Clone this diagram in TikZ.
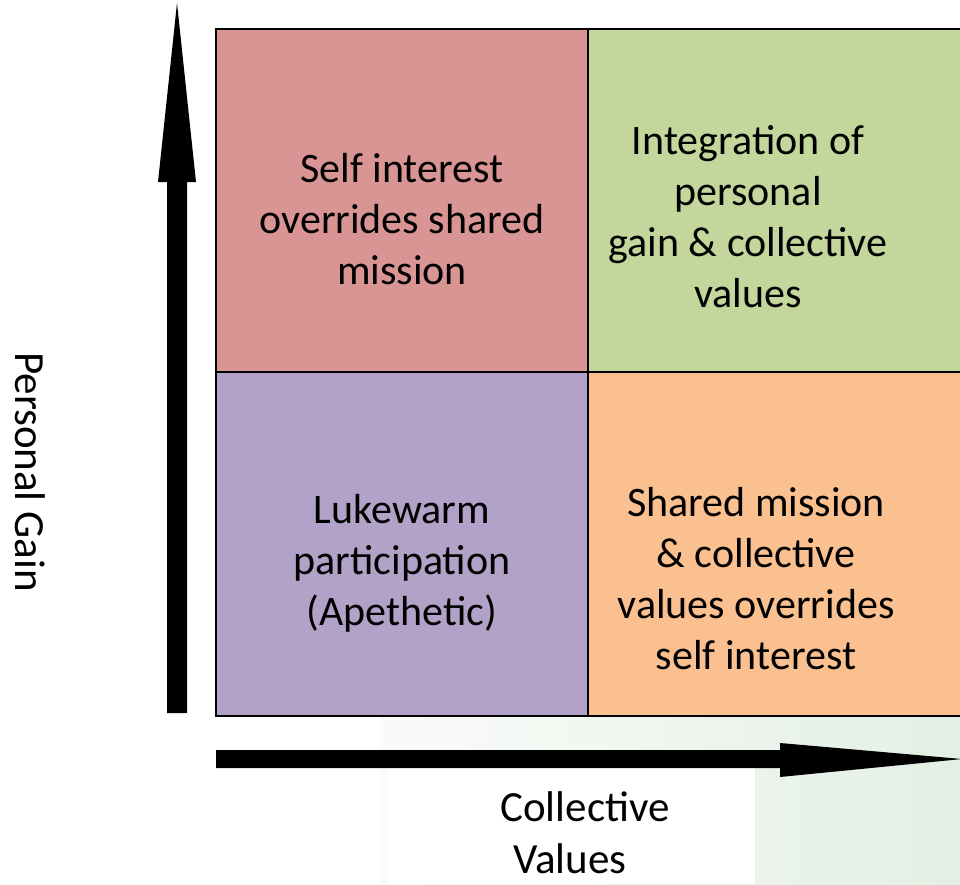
\documentclass[tikz,border=0pt]{standalone}
\usepackage{fontspec}
\setmainfont{Carlito}
\definecolor{cTL}{HTML}{D99594}
\definecolor{cTR}{HTML}{C3D69B}
\definecolor{cBL}{HTML}{B2A2C7}
\definecolor{cBR}{HTML}{FAC08F}
\definecolor{photoA}{HTML}{EEF3EC}
\definecolor{photoB}{HTML}{DCEBDD}
\begin{document}
\begin{tikzpicture}[x=1pt,y=-1pt,
  quad/.style={draw=black,line width=2pt},
  qtext/.style={align=center,font=\fontsize{42}{51}\selectfont,inner sep=0pt},
  axtext/.style={align=center,font=\fontsize{43}{52}\selectfont,inner sep=0pt},
  axis/.style={fill=black,draw=none}]
\useasboundingbox (0,0) rectangle (960,884);
% faint background photo
\shade[left color=photoA!30!white,right color=photoB!80!white,draw=none] (380,716) rectangle (960,884);
\fill[white] (388,768) rectangle (755,884);
% quadrants
\fill[cTL] (216,29) rectangle (588,372);
\fill[cTR] (588,29) rectangle (962,372);
\fill[cBL] (216,372) rectangle (588,716);
\fill[cBR] (588,372) rectangle (962,716);
\draw[quad] (962,29) -- (216,29) -- (216,716) -- (962,716);
\draw[quad] (588,29) -- (588,716);
\draw[quad] (216,372) -- (962,372);
% axes
\fill[axis] (167,713) -- (167,182) -- (158,182) -- (177,3) -- (196,182) -- (187,182) -- (187,713) -- cycle;
\fill[axis] (216,750) -- (780,750) -- (780,743) -- (962,759) -- (780,777) -- (780,768) -- (216,768) -- cycle;
% texts
\node[qtext] (tl) at (402,219) {Self interest\\overrides shared\\mission};
\node[qtext] (tr) at (748,217) {Integration of\\personal\\gain \& collective\\values};
\node[qtext] (bl) at (402,563) {Lukewarm\\participation\\(Apethetic)};
\node[qtext] (br) at (756,579) {Shared mission\\\& collective\\values overrides\\self interest};
\node[axtext,rotate=-90] (py) at (30,472) {Personal Gain};
\node[axtext] (cx) at (585,833) {Collective\\\hspace*{-30pt}Values};
\end{tikzpicture}
\end{document}
